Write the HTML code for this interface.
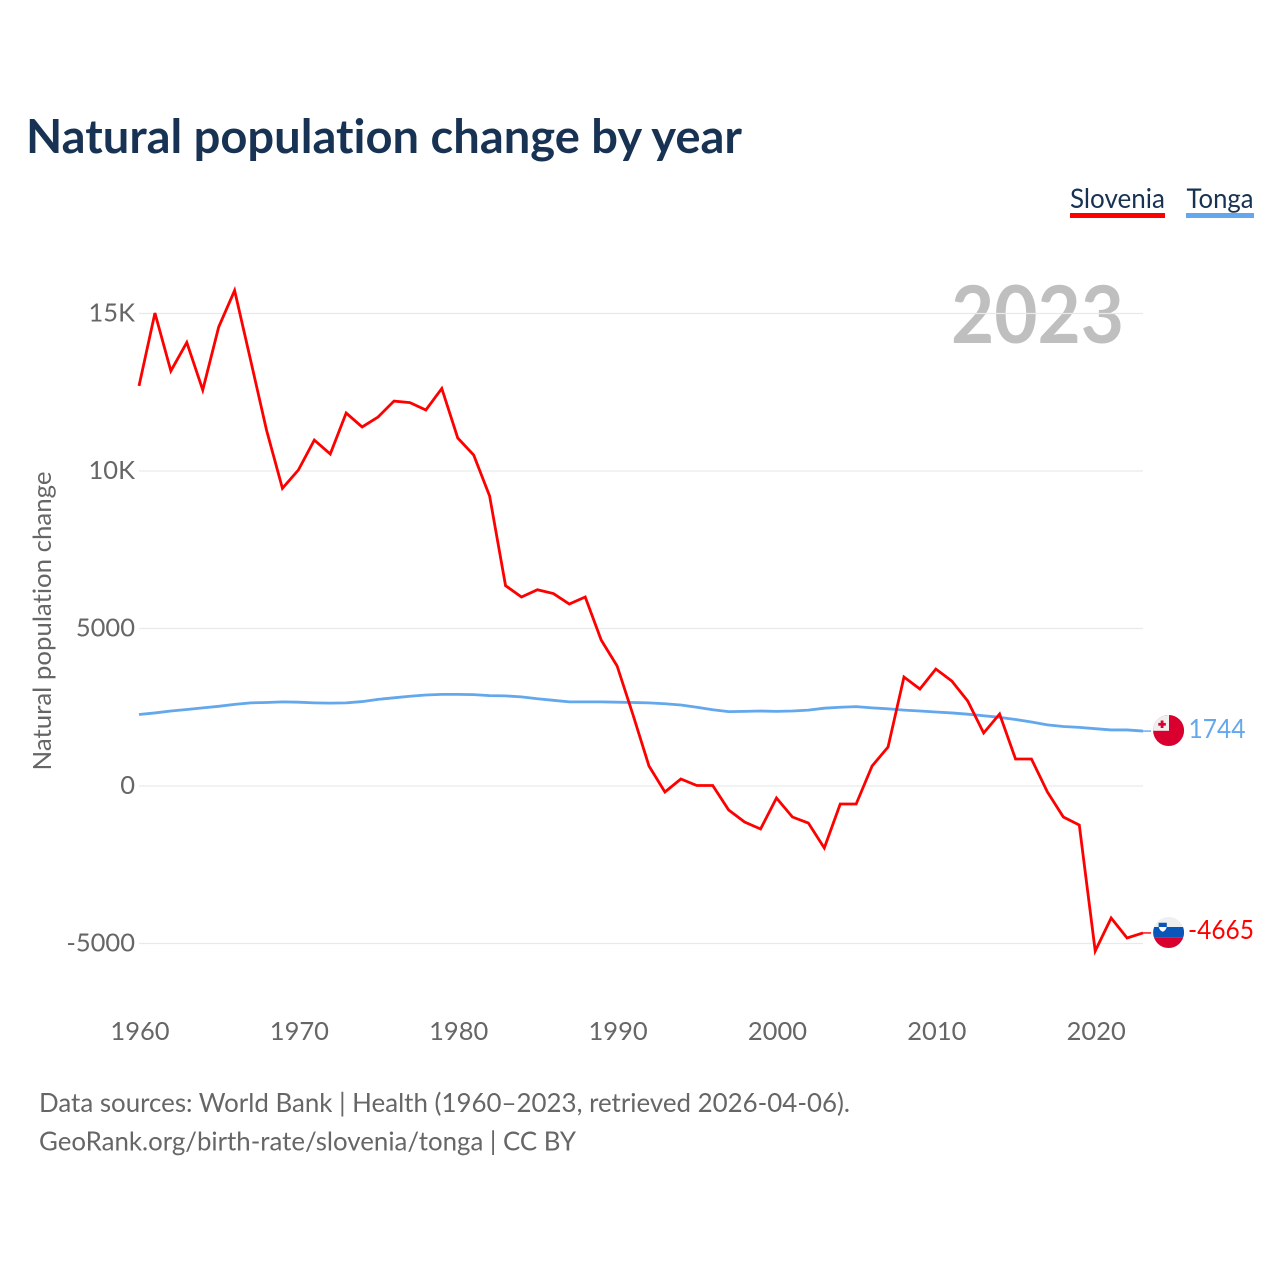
<!DOCTYPE html>
<html lang="en">
<head>
<meta charset="utf-8">
<title>Natural population change by year</title>
<style>
  html, body { margin: 0; padding: 0; background: #fff; }
  svg { display: block; }
  text { font-family: "Lato", "Carlito", "Liberation Sans", sans-serif; font-variant-ligatures: none; }
</style>
</head>
<body>
<svg id="chart" width="1280" height="1280" viewBox="0 0 1280 1280" xmlns="http://www.w3.org/2000/svg">
  <defs>
    <clipPath id="flag-clip-tonga"><circle cx="1168.6" cy="730.5" r="15.5"></circle></clipPath>
    <clipPath id="flag-clip-slovenia"><circle cx="1168.6" cy="932.5" r="15.5"></circle></clipPath>
  </defs>
  <rect x="0" y="0" width="1280" height="1280" fill="#ffffff"></rect>

  <text x="26" y="153" font-size="47" font-weight="700" fill="#173253" textLength="716" lengthAdjust="spacingAndGlyphs">Natural population change by year</text>

  <g>
    <text x="1070" y="208" font-size="27" fill="#173253" textLength="95" lengthAdjust="spacingAndGlyphs">Slovenia</text>
    <rect x="1070" y="213" width="95" height="5" fill="#ff0000"></rect>
  </g>
  <g>
    <text x="1186.5" y="208" font-size="27" fill="#173253" textLength="67" lengthAdjust="spacingAndGlyphs">Tonga</text>
    <rect x="1186" y="213" width="68" height="5" fill="#63a7ec"></rect>
  </g>

  <text x="951" y="343" font-size="80" font-weight="700" fill="#7f7f7f" fill-opacity="0.5" textLength="173" lengthAdjust="spacingAndGlyphs">2023</text>

  <g id="y-grid"></g>
  <g id="y-ticks"></g>
  <g id="x-ticks"></g>

  <text transform="translate(51 770.5) rotate(-90)" font-size="25" fill="#666666" textLength="299" lengthAdjust="spacingAndGlyphs">Natural population change</text>

  <g id="series"></g>

  <g clip-path="url(#flag-clip-tonga)">
    <rect x="1153" y="715" width="31" height="31" fill="#d90030"></rect>
    <rect x="1153" y="715" width="16" height="15.8" fill="#efefef"></rect>
    <rect x="1160.7" y="720.5" width="2.8" height="7.5" fill="#d90030"></rect>
    <rect x="1158.3" y="722.9" width="7.5" height="2.8" fill="#d90030"></rect>
  </g>
  <g clip-path="url(#flag-clip-slovenia)">
    <rect x="1153" y="917" width="31" height="10" fill="#efefef"></rect>
    <rect x="1153" y="927" width="31" height="10.7" fill="#0a56b8"></rect>
    <rect x="1153" y="937.7" width="31" height="11" fill="#d90030"></rect>
    <path d="M1158.6 922.7 h8.2 v4.6 h-8.2 z" fill="#0a56b8"></path>
    <path d="M1158.8 927 h7.8 q-0.6 3.4 -3.9 4.8 q-3.3 -1.4 -3.9 -4.8 z" fill="#ffffff"></path>
  </g>

  <text id="end-label-tonga" x="1188.5" y="738" font-size="26" fill="#63a7ec" textLength="57" lengthAdjust="spacingAndGlyphs"></text>
  <text id="end-label-slovenia" x="1188" y="939" font-size="26" fill="#ff0000" textLength="66" lengthAdjust="spacingAndGlyphs"></text>

  <text x="39" y="1112" font-size="26" fill="#666666" textLength="811" lengthAdjust="spacingAndGlyphs">Data sources: World Bank | Health (1960–2023, retrieved 2026-04-06).</text>
  <text x="39" y="1150.5" font-size="26" fill="#666666" textLength="537" lengthAdjust="spacingAndGlyphs">GeoRank.org/birth-rate/slovenia/tonga | CC BY</text>
</svg>

<script>
const startYear = 1960;
const sloveniaValues = [
  12700, 15016, 13175, 14080, 12571, 14571, 15730, 13524, 11302, 9450,
  10032, 10980, 10540, 11840, 11397, 11714, 12220, 12170, 11937, 12620,
  11048, 10508, 9206, 6360, 6000, 6230, 6110, 5778, 6000, 4635,
  3810, 2254, 635, -190, 222, 16, 16, -762, -1143, -1365,
  -381, -984, -1175, -1968, -571, -571, 635, 1238, 3460, 3079,
  3714, 3333, 2698, 1683, 2286, 857, 857, -190, -984, -1238,
  -5238, -4190, -4825, -4665
];
const tongaValues = [
  2270, 2320, 2380, 2430, 2480, 2530, 2590, 2640, 2650, 2670,
  2660, 2640, 2630, 2640, 2680, 2750, 2800, 2850, 2890, 2910,
  2910, 2900, 2870, 2860, 2830, 2770, 2720, 2670, 2670, 2670,
  2660, 2650, 2640, 2610, 2570, 2500, 2420, 2360, 2370, 2380,
  2370, 2380, 2410, 2470, 2500, 2520, 2480, 2450, 2410, 2380,
  2350, 2320, 2280, 2230, 2180, 2110, 2030, 1940, 1890, 1860,
  1820, 1780, 1780, 1744
];
const yTickValues = [15000, 10000, 5000, 0, -5000];
const yTickLabels = ['15K', '10K', '5000', '0', '-5000'];
const xTickYears = [1960, 1970, 1980, 1990, 2000, 2010, 2020];

const SVG_NS = 'http://www.w3.org/2000/svg';
function xScale(year) { return 139 + (year - 1960) * 15.937; }
function yScale(value) { return 786 - value * 0.0315; }

function make(tag, parent, attrs) {
  const el = document.createElementNS(SVG_NS, tag);
  for (const key in attrs) el.setAttribute(key, attrs[key]);
  parent.appendChild(el);
  return el;
}

const gridGroup = document.getElementById('y-grid');
const yTickGroup = document.getElementById('y-ticks');
yTickValues.forEach(function (value, i) {
  const line = make('line', gridGroup, { x1: 139, x2: 1143, y1: yScale(value), y2: yScale(value), stroke: '#e9e9e9', 'stroke-width': 1.2 });
  
  
  const label = make('text', yTickGroup, { x: 135, y: yScale(value) + 8, 'text-anchor': 'end', 'font-size': 25.5, fill: '#666666' });
  
  
  label.textContent = yTickLabels[i];
});

const xTickGroup = document.getElementById('x-ticks');
xTickYears.forEach(function (year) {
  const label = make('text', xTickGroup, { x: xScale(year) + 1, y: 1040, 'text-anchor': 'middle', 'font-size': 25.5, fill: '#666666' });
  
  
  label.textContent = String(year);
});

function linePoints(values) {
  return values.map(function (v, i) {
    return xScale(startYear + i).toFixed(2) + ',' + yScale(v).toFixed(2);
  }).join(' ');
}

const seriesGroup = document.getElementById('series');

const tongaLine = make('polyline', seriesGroup, { points: linePoints(tongaValues), fill: 'none', stroke: '#63a7ec', 'stroke-width': 2.8, 'stroke-linejoin': 'round' });



const sloveniaLine = make('polyline', seriesGroup, { points: linePoints(sloveniaValues), fill: 'none', stroke: '#ff0000', 'stroke-width': 2.8, 'stroke-linejoin': 'miter' });



const lastYear = startYear + sloveniaValues.length - 1;
const lastTonga = tongaValues[tongaValues.length - 1];
const lastSlovenia = sloveniaValues[sloveniaValues.length - 1];

const tongaConnector = make('line', seriesGroup, { x1: xScale(lastYear), x2: 1151, y1: yScale(lastTonga), y2: yScale(lastTonga), stroke: '#63a7ec', 'stroke-width': 1.4 });



const sloveniaConnector = make('line', seriesGroup, { x1: xScale(lastYear), x2: 1151, y1: yScale(lastSlovenia), y2: yScale(lastSlovenia), stroke: '#ff0000', 'stroke-width': 1.4 });



document.getElementById('end-label-tonga').textContent = String(lastTonga);
document.getElementById('end-label-slovenia').textContent = String(lastSlovenia);
</script>
</body>
</html>
